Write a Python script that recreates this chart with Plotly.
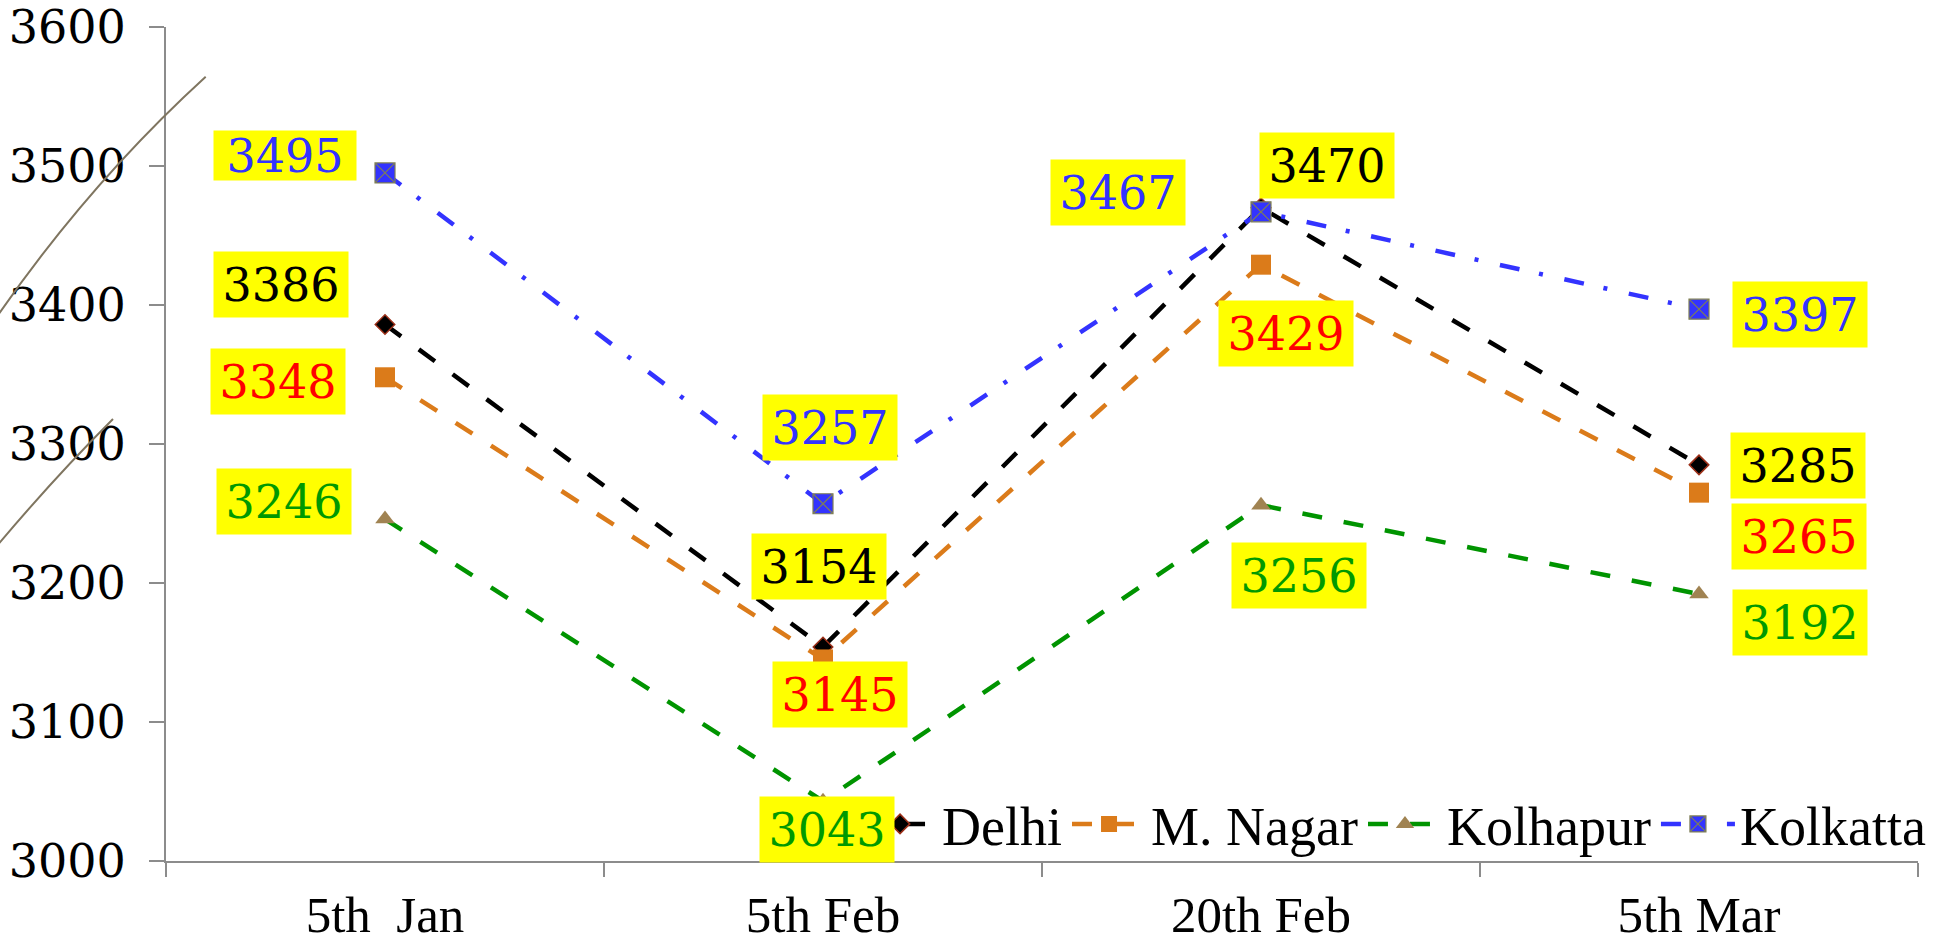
import plotly.graph_objects as go

# Sampling dates and readings for each city
categories = ["5th\u00a0 Jan", "5th Feb", "20th Feb", "5th Mar"]
delhi = [3386, 3154, 3470, 3285]
m_nagar = [3348, 3145, 3429, 3265]
kolhapur = [3246, 3043, 3256, 3192]
kolkatta = [3495, 3257, 3467, 3397]

W, H = 1937, 944
M_L, M_R, M_T, M_B = 166, 19, 27, 83

NUM_FONT = "DejaVu Serif"
TXT_FONT = "Liberation Serif"

series = [
    dict(name="Delhi", y=delhi, line="#000000", dash="20px,22px",
         symbol="diamond", msize=15, mcolor="#000000", mline="#9C2F18", mlw=1.5,
         label="#000000",
         offsets=[(-104, 40), (-4, 80), (66, 42), (99, -1)]),
    dict(name="M. Nagar", y=m_nagar, line="#DB7B1A", dash="20px,22px",
         symbol="square", msize=20, mcolor="#DB7B1A", mline="#DB7B1A", mlw=0,
         label="#FF0000",
         offsets=[(-107, -4), (17, -35), (25, -69), (100, -44)]),
    dict(name="Kolhapur", y=kolhapur, line="#009400", dash="20px,22px",
         symbol="triangle-up", msize=17, mcolor="#A08352", mline="#A08352", mlw=0,
         label="#009900",
         offsets=[(-101, 18), (4, -28), (38, -70), (101, -28)]),
    dict(name="Kolkatta", y=kolkatta, line="#3333FF", dash="20px,20px,4px,22px",
         symbol="square-x", msize=20, mcolor="#3333FF", mline="#7F7F55", mlw=1.2,
         label="#3333FF",
         offsets=[(-100, 17), (7, 76), (-143, 19), (101, -5)]),
]

fig = go.Figure()
annotations = []
for s in series:
    fig.add_trace(go.Scatter(
        x=categories, y=s["y"], name=s["name"], mode="lines+markers",
        line=dict(color=s["line"], width=4.5, dash=s["dash"]),
        marker=dict(symbol=s["symbol"], size=s["msize"], color=s["mcolor"],
                    line=dict(color=s["mline"], width=s["mlw"])),
    ))
    for cat, val, (dx, dy) in zip(categories, s["y"], s["offsets"]):
        big = (val == 3495)
        annotations.append(dict(
            x=cat, y=val, xref="x", yref="y", text=str(val), showarrow=False,
            xshift=dx, yshift=dy, bgcolor="#FFFF00", borderpad=0,
            width=142 if big else 134, height=49 if big else 65,
            font=dict(family=NUM_FONT, size=46, color=s["label"]),
        ))

# decorative curved strokes at the left edge
def px(x, y):
    return (x - M_L) / (W - M_L - M_R), (H - M_B - y) / (H - M_T - M_B)

p0, c0, p1 = px(205.7, 76.7), px(89.2, 183.0), px(-4, 318)
q0, d0, q1 = px(113, 419), px(54, 478), px(-4, 547)
shapes = [
    dict(type="path", xref="paper", yref="paper",
         path=f"M {p0[0]},{p0[1]} Q {c0[0]},{c0[1]} {p1[0]},{p1[1]}",
         line=dict(color="#7F7560", width=2)),
    dict(type="path", xref="paper", yref="paper",
         path=f"M {q0[0]},{q0[1]} Q {d0[0]},{d0[1]} {q1[0]},{q1[1]}",
         line=dict(color="#7F7560", width=2)),
]

fig.update_layout(
    width=W, height=H,
    margin=dict(l=M_L, r=M_R, t=M_T, b=M_B, autoexpand=False),
    paper_bgcolor="white", plot_bgcolor="white",
    showlegend=True,
    legend=dict(orientation="h", x=0.395, xanchor="left", y=0.044, yanchor="middle",
                font=dict(family=TXT_FONT, size=54, color="#000000"),
                bgcolor="rgba(0,0,0,0)", itemwidth=74, traceorder="normal"),
    annotations=annotations,
    shapes=shapes,
    xaxis=dict(type="category", range=[-0.5, 3.5], showgrid=False,
               showline=True, linecolor="#8C8C8C", linewidth=2,
               ticks="outside", ticklen=14, tickcolor="#8C8C8C", tickwidth=2,
               tickson="boundaries", ticklabelstandoff=8,
               tickfont=dict(family=TXT_FONT, size=51, color="#000000")),
    yaxis=dict(range=[3000, 3600], dtick=100, showgrid=False, zeroline=False,
               showline=True, linecolor="#8C8C8C", linewidth=2,
               ticks="outside", ticklen=15, tickcolor="#8C8C8C", tickwidth=2,
               ticklabelstandoff=14, ticklabeloverflow="allow",
               tickfont=dict(family=NUM_FONT, size=46, color="#000000")),
)

fig.write_html("out.html")
